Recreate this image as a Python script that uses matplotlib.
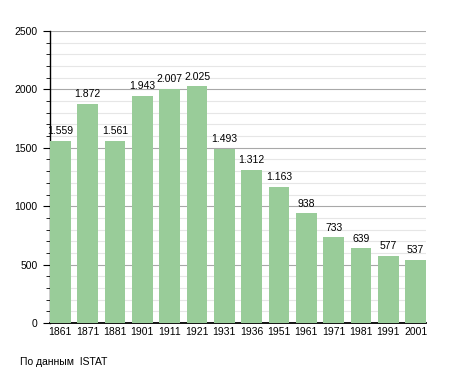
import matplotlib
matplotlib.use("Agg")
import matplotlib.pyplot as plt
from matplotlib.ticker import MultipleLocator

years = ["1861", "1871", "1881", "1901", "1911", "1921", "1931", "1936",
         "1951", "1961", "1971", "1981", "1991", "2001"]
population = [1559, 1872, 1561, 1943, 2007, 2025, 1493, 1312,
              1163, 938, 733, 639, 577, 537]
value_labels = ["1.559", "1.872", "1.561", "1.943", "2.007", "2.025", "1.493",
                "1.312", "1.163", "938", "733", "639", "577", "537"]

plt.rcParams['font.family'] = ['Liberation Sans', 'DejaVu Sans']

fig = plt.figure(figsize=(4.55, 3.73), dpi=100)
ax = fig.add_axes([50/455, 1-323/373, 376/455, 292/373])

x = list(range(len(years)))
w = 0.76
ax.bar(x, population, width=w, color='#99cc99', zorder=3)
for xi, v, lab in zip(x, population, value_labels):
    ax.annotate(lab, (xi, v), xytext=(0, 3.5), textcoords='offset points',
                ha='center', va='bottom', fontsize=7.5, zorder=4)

ax.set_xlim(-w/2, len(years) - 1 + w/2)
ax.set_ylim(0, 2500)
ax.yaxis.set_major_locator(MultipleLocator(500))
ax.yaxis.set_minor_locator(MultipleLocator(100))
ax.grid(axis='y', which='minor', color='#e6e6e6', linewidth=0.8, zorder=0)
ax.grid(axis='y', which='major', color='#a8a8a8', linewidth=0.8, zorder=1)
ax.set_xticks(x)
ax.set_xticklabels(years, fontsize=7.5)
ax.tick_params(axis='x', length=0, pad=3)
ax.tick_params(axis='y', which='major', length=5, labelsize=7.5, pad=4)
ax.tick_params(axis='y', which='minor', length=3)
for s in ['top', 'right']:
    ax.spines[s].set_visible(False)
ax.spines['left'].set_linewidth(1.0)
ax.spines['bottom'].set_linewidth(1.3)

fig.text(20/455, 1-362/373, "По данным  ISTAT", fontsize=7.5, va='center', ha='left')

fig.savefig("out.png", dpi=100)
